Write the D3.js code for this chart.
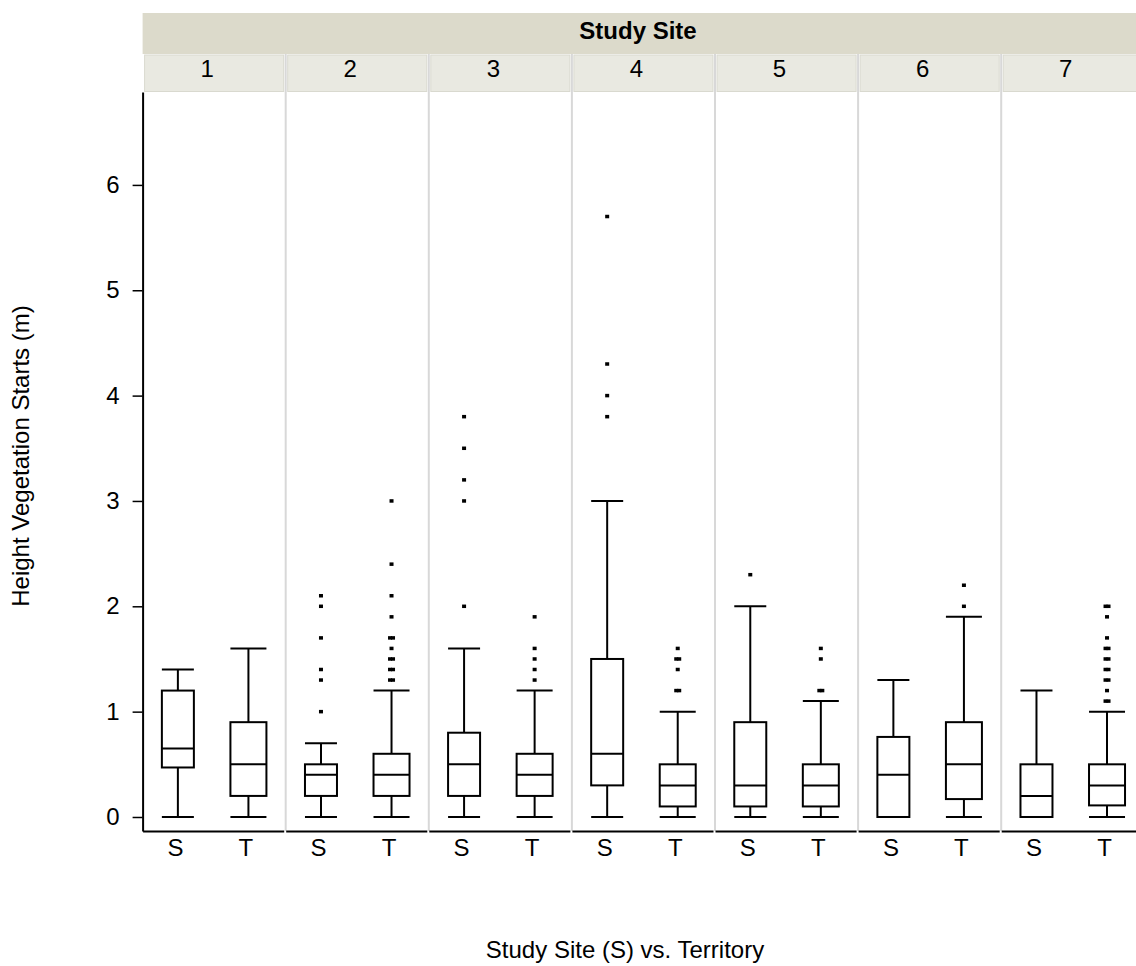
<!DOCTYPE html>
<html>
<head>
<meta charset="utf-8">
<script src="https://cdn.jsdelivr.net/npm/d3@7"></script>
<style>
body { margin: 0; background: #fff; }
text { font-family: "Liberation Sans", Arial, sans-serif; fill: #000; }
</style>
</head>
<body>
<div id="chart"></div>
<script>
// study sites and the two groups in each
var sites = ['1', '2', '3', '4', '5', '6', '7'];
var groups = ['S', 'T'];

// box stats per site, [S, T]
var whiskerLow  = [[0, 0], [0, 0], [0, 0], [0, 0], [0, 0], [0, 0], [0, 0]];
var q1          = [[0.47, 0.2], [0.2, 0.2], [0.2, 0.2], [0.3, 0.1], [0.1, 0.1], [0, 0.17], [0, 0.11]];
var median      = [[0.65, 0.5], [0.4, 0.4], [0.5, 0.4], [0.6, 0.3], [0.3, 0.3], [0.4, 0.5], [0.2, 0.3]];
var q3          = [[1.2, 0.9], [0.5, 0.6], [0.8, 0.6], [1.5, 0.5], [0.9, 0.5], [0.76, 0.9], [0.5, 0.5]];
var whiskerHigh = [[1.4, 1.6], [0.7, 1.2], [1.6, 1.2], [3.0, 1.0], [2.0, 1.1], [1.3, 1.9], [1.2, 1.0]];

// outliers per site, [S, T]
var outliers = [
  [[], []],
  [[2.1, 2.0, 1.7, 1.4, 1.3, 1.0], [3.0, 2.4, 2.1, 1.9, 1.7, 1.7, 1.6, 1.5, 1.5, 1.4, 1.4, 1.3, 1.3]],
  [[3.8, 3.5, 3.2, 3.0, 2.0], [1.9, 1.6, 1.5, 1.4, 1.3]],
  [[5.7, 4.3, 4.0, 3.8], [1.6, 1.5, 1.5, 1.4, 1.2, 1.2]],
  [[2.3], [1.6, 1.5, 1.2, 1.2]],
  [[], [2.2, 2.0]],
  [[], [2.0, 2.0, 1.9, 1.7, 1.6, 1.6, 1.5, 1.5, 1.4, 1.4, 1.3, 1.3, 1.2, 1.1, 1.1]]
];

var yTicks = [0, 1, 2, 3, 4, 5, 6];

// layout
var width = 1136, height = 966;
var plotLeft = 142.6, panelW = 143.1;
var plotTop = 92, plotBottom = 831;

var svg = d3.select("#chart")
  .append("svg")
    .attr("width", width)
    .attr("height", height);

var xPanel = d3.scaleBand()
  .domain(sites)
  .range([plotLeft, plotLeft + sites.length * panelW]);

var y = d3.scaleLinear()
  .domain([-0.133, 6.882])
  .range([plotBottom, plotTop]);

// outer strip
svg.append("rect")
  .attr("x", plotLeft)
  .attr("y", 13)
  .attr("width", width - plotLeft + 20)
  .attr("height", 41)
  .attr("fill", "#dcdacb");
svg.append("text")
  .attr("x", 638)
  .attr("y", 39)
  .attr("text-anchor", "middle")
  .style("font-size", "24px")
  .style("font-weight", "bold")
  .text("Study Site");

// separators between panels
sites.slice(1).forEach(function(s) {
  svg.append("line")
    .attr("x1", xPanel(s)).attr("x2", xPanel(s))
    .attr("y1", 54).attr("y2", plotBottom)
    .attr("stroke", "#d8d8d8")
    .attr("stroke-width", 2);
});

var boxW = {S: 32, T: 36};

sites.forEach(function(site, i) {
  var x0 = xPanel(site);

  // panel strip
  svg.append("rect")
    .attr("x", x0 + 2)
    .attr("y", 55)
    .attr("width", panelW - 4)
    .attr("height", 36.5)
    .attr("fill", "#e9e9e1")
    .attr("stroke", "#d9d9cf")
    .attr("stroke-width", 1);
  svg.append("text")
    .attr("x", x0 + panelW / 2 - 7)
    .attr("y", 77)
    .attr("text-anchor", "middle")
    .style("font-size", "24px")
    .text(site);

  var xIn = d3.scalePoint()
    .domain(groups)
    .range([x0, x0 + panelW - 2])
    .padding(0.5);

  // bottom axis for this panel
  var ax = svg.append("g")
    .attr("transform", "translate(0," + plotBottom + ")")
    .call(d3.axisBottom(xIn).tickSize(0).tickPadding(8).tickSizeOuter(0));
  ax.select(".domain").attr("stroke", "#000").attr("stroke-width", 2);
  ax.selectAll("text")
    .attr("dx", -3)
    .style("font-size", "24px")
    .style("font-family", '"Liberation Sans", Arial, sans-serif')
    .attr("fill", "#000");

  groups.forEach(function(g, j) {
    var cx = xIn(g), w = boxW[g];
    var gb = svg.append("g")
      .attr("fill", "none")
      .attr("stroke", "#000")
      .attr("stroke-width", 2);

    // whiskers
    gb.append("line")
      .attr("x1", cx).attr("x2", cx)
      .attr("y1", y(whiskerLow[i][j])).attr("y2", y(q1[i][j]));
    gb.append("line")
      .attr("x1", cx).attr("x2", cx)
      .attr("y1", y(q3[i][j])).attr("y2", y(whiskerHigh[i][j]));
    [whiskerLow[i][j], whiskerHigh[i][j]].forEach(function(v) {
      gb.append("line")
        .attr("x1", cx - w / 2).attr("x2", cx + w / 2)
        .attr("y1", y(v)).attr("y2", y(v));
    });

    // box
    gb.append("rect")
      .attr("x", cx - w / 2)
      .attr("y", y(q3[i][j]))
      .attr("width", w)
      .attr("height", y(q1[i][j]) - y(q3[i][j]));
    gb.append("line")
      .attr("x1", cx - w / 2).attr("x2", cx + w / 2)
      .attr("y1", y(median[i][j])).attr("y2", y(median[i][j]));

    // outliers, repeated values spread a little sideways
    var counts = d3.rollup(outliers[i][j], function(v) { return v.length; }, function(d) { return d; });
    var seen = new Map();
    outliers[i][j].forEach(function(v) {
      var n = counts.get(v), k = seen.get(v) || 0;
      seen.set(v, k + 1);
      var off = (k - (n - 1) / 2) * 3;
      svg.append("rect")
        .attr("x", cx + off - 2)
        .attr("y", y(v) - 1.75)
        .attr("width", 4)
        .attr("height", 3.5)
        .attr("fill", "#000");
    });
  });
});

// y axis
var yAx = svg.append("g")
  .attr("transform", "translate(" + plotLeft + ",0)")
  .call(d3.axisLeft(y).tickValues(yTicks).tickFormat(d3.format("d"))
    .tickSize(10).tickPadding(13).tickSizeOuter(0));
yAx.select(".domain").attr("stroke", "#000").attr("stroke-width", 2);
yAx.selectAll(".tick line").attr("stroke", "#000").attr("stroke-width", 1.5);
yAx.selectAll("text")
  .style("font-size", "24px")
  .style("font-family", '"Liberation Sans", Arial, sans-serif')
  .attr("fill", "#000");

// axis titles
svg.append("text")
  .attr("transform", "rotate(-90)")
  .attr("x", -456)
  .attr("y", 29)
  .attr("text-anchor", "middle")
  .style("font-size", "24px")
  .text("Height Vegetation Starts (m)");

svg.append("text")
  .attr("x", 625)
  .attr("y", 958)
  .attr("text-anchor", "middle")
  .style("font-size", "24px")
  .text("Study Site (S) vs. Territory");
</script>
</body>
</html>
